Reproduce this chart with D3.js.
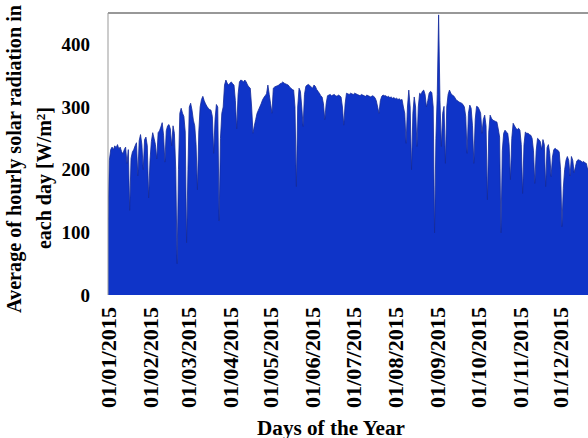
<!DOCTYPE html>
<html>
<head>
<meta charset="utf-8">
<script src="https://cdn.jsdelivr.net/npm/d3@7"></script>
<style>
  body { margin: 0; background: #fff; }
  svg text { font-family: "Liberation Serif", "DejaVu Serif", serif; font-weight: bold; fill: #000; }
</style>
</head>
<body>
<svg id="chart" width="588" height="438"></svg>
<script>
;(function(window, d3) {
    'use strict';

    // daily average of hourly solar radiation [W/m2], 2015, one array per month
    var jan = [120, 215, 232, 236, 232, 238, 235, 240, 233, 236, 229, 225, 232, 236, 210, 232,
               135, 218, 228, 232, 238, 243, 190, 246, 256, 240, 200, 248, 252, 238, 155];
    var feb = [215, 245, 259, 250, 240, 217, 259, 262, 268, 275, 255, 212, 262, 270, 272, 265,
               238, 270, 258, 200, 50, 200, 290, 298, 290, 285, 260, 83];
    var mar = [200, 300, 306, 295, 279, 270, 240, 168, 260, 300, 312, 317, 310, 305, 301, 298,
               296, 295, 285, 226, 280, 304, 300, 118, 250, 290, 300, 335, 343, 338, 335];
    var apr = [338, 340, 337, 335, 310, 265, 320, 340, 343, 342, 340, 343, 340, 335, 332, 330,
               300, 258, 270, 280, 290, 295, 300, 305, 311, 315, 318, 321, 335, 320];
    var may = [305, 290, 330, 332, 333, 334, 335, 337, 338, 340, 338, 337, 336, 335, 332, 330,
               328, 327, 300, 173, 300, 330, 325, 300, 269, 320, 333, 335, 336, 334, 332];
    var jun = [330, 335, 333, 328, 325, 322, 318, 316, 305, 280, 305, 318, 319, 320, 318, 319,
               320, 318, 317, 319, 318, 316, 300, 271, 305, 322, 321, 320, 322, 321];
    var jul = [320, 322, 321, 320, 319, 318, 320, 319, 318, 317, 319, 318, 317, 316, 318, 317,
               315, 310, 300, 290, 310, 317, 319, 318, 318, 316, 317, 315, 316, 314, 315];
    var aug = [313, 314, 312, 313, 311, 312, 300, 290, 242, 300, 327, 300, 200, 290, 316, 300,
               237, 300, 322, 320, 325, 327, 320, 300, 310, 322, 325, 323, 300, 99, 250];
    var sep = [320, 447, 310, 237, 290, 301, 210, 300, 320, 327, 322, 319, 318, 315, 311, 310,
               308, 307, 306, 304, 300, 285, 226, 290, 303, 298, 270, 210, 280, 301];
    var oct = [300, 296, 290, 258, 280, 287, 270, 152, 260, 287, 282, 279, 278, 277, 276, 265,
               252, 99, 230, 258, 263, 260, 258, 240, 184, 250, 274, 270, 266, 264, 266];
    var nov = [263, 240, 162, 240, 260, 258, 258, 256, 255, 250, 230, 178, 230, 250, 248, 245,
               232, 248, 240, 173, 235, 240, 226, 189, 220, 232, 234, 232, 231, 228];
    var dec = [200, 109, 170, 200, 215, 221, 215, 190, 221, 215, 195, 205, 214, 216, 215, 214,
               212, 213, 211, 210, 200, 205, 208, 206, 204, 200, 198, 203, 200, 195, 198];

    var yTicks = [0, 100, 200, 300, 400];
    var monthTicks = d3.range(12).map(function(m) { return new Date(2015, m, 1); });
    var tickFormat = d3.timeFormat('%d/%m/%Y');

    var values = [].concat(jan, feb, mar, apr, may, jun, jul, aug, sep, oct, nov, dec);
    var start = new Date(2015, 0, 1);
    var data = values.map(function(v, i) {
        return { date: d3.timeDay.offset(start, i), value: v };
    });

    var svg = d3.select('#chart');
    var left = 108, top = 13, bottom = 295;

    var x = d3.scaleTime()
        .domain([start, new Date(2015, 11, 31)])
        .range([left, left + 364 * 1.355]);
    var y = d3.scaleLinear()
        .domain([0, 450])
        .range([bottom, top]);

    svg.append('defs').append('clipPath').attr('id', 'plotclip')
        .append('rect')
        .attr('x', left).attr('y', top)
        .attr('width', 588 - left).attr('height', bottom - top);

    var area = d3.area()
        .x(function(d) { return x(d.date); })
        .y0(y(0))
        .y1(function(d) { return y(d.value); });

    var line = d3.line()
        .x(function(d) { return x(d.date); })
        .y(function(d) { return y(d.value); });

    var plot = svg.append('g').attr('clip-path', 'url(#plotclip)');
    plot.append('path')
        .datum(data)
        .attr('d', area)
        .attr('fill', '#0f34c8');
    plot.append('path')
        .datum(data)
        .attr('d', line)
        .attr('fill', 'none')
        .attr('stroke', '#13299a')
        .attr('stroke-width', 0.8);

    // plot frame: dark top, grey left
    svg.append('line')
        .attr('x1', left).attr('x2', 588)
        .attr('y1', top).attr('y2', top)
        .attr('stroke', '#333').attr('stroke-width', 1.2);
    svg.append('line')
        .attr('x1', left).attr('x2', left)
        .attr('y1', top).attr('y2', bottom)
        .attr('stroke', '#999').attr('stroke-width', 1);

    // y axis labels
    var yAxis = d3.axisLeft(y).tickValues(yTicks).tickSize(0).tickPadding(18);
    var gy = svg.append('g')
        .attr('transform', 'translate(' + left + ',0)')
        .call(yAxis);
    gy.select('.domain').remove();
    gy.selectAll('text')
        .attr('font-size', 19)
        .attr('fill', '#000');

    // x axis labels, rotated
    var xAxis = d3.axisBottom(x).tickValues(monthTicks).tickFormat(tickFormat).tickSize(0);
    var gx = svg.append('g')
        .attr('transform', 'translate(0,' + bottom + ')')
        .call(xAxis);
    gx.select('.domain').remove();
    gx.selectAll('text')
        .attr('font-size', 21)
        .attr('fill', '#000')
        .attr('text-anchor', 'end')
        .attr('textLength', 101)
        .attr('lengthAdjust', 'spacingAndGlyphs')
        .attr('x', 0).attr('y', 0)
        .attr('dy', '0.34em')
        .attr('transform', 'translate(0,12) rotate(-90)');

    // titles
    svg.append('text')
        .attr('transform', 'translate(331,435)')
        .attr('text-anchor', 'middle')
        .attr('font-size', 20)
        .attr('textLength', 148)
        .attr('lengthAdjust', 'spacingAndGlyphs')
        .text('Days of the Year');

    svg.append('text')
        .attr('transform', 'translate(21,159) rotate(-90)')
        .attr('text-anchor', 'middle')
        .attr('font-size', 20)
        .attr('textLength', 308)
        .attr('lengthAdjust', 'spacingAndGlyphs')
        .text('Average of hourly solar radiation in');

    var t2 = svg.append('text')
        .attr('transform', 'translate(51,178) rotate(-90)')
        .attr('text-anchor', 'middle')
        .attr('font-size', 20);
    t2.append('tspan').text('each day [W/m');
    t2.append('tspan').attr('font-size', 13).attr('dy', '-0.5em').text('2');
    t2.append('tspan').attr('dy', '0.35em').text(']');

}(window, window.d3));
</script>
</body>
</html>
